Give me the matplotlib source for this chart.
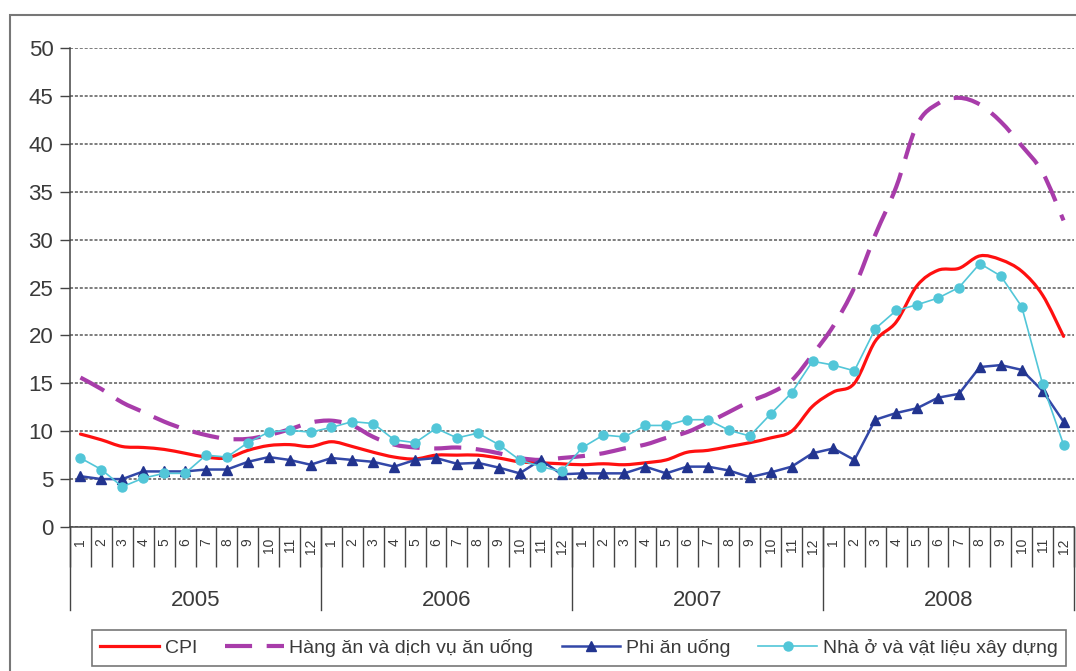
import matplotlib
matplotlib.use("Agg")
import matplotlib.pyplot as plt
from matplotlib.path import Path
from matplotlib.patches import PathPatch, Rectangle
from matplotlib.lines import Line2D
import numpy as np

# ---- data: year-on-year change (%), monthly 2005-2008 ----
years = ["2005", "2006", "2007", "2008"]
months = [str(m) for m in range(1, 13)]

cpi = [9.7, 9.1, 8.4, 8.3, 8.1, 7.7, 7.3, 7.2, 8.0, 8.5, 8.6, 8.4,
       8.9, 8.4, 7.8, 7.3, 7.1, 7.5, 7.5, 7.5, 7.2, 6.8, 6.7, 6.6,
       6.5, 6.6, 6.5, 6.7, 7.0, 7.8, 8.0, 8.4, 8.8, 9.3, 10.0, 12.6,
       14.1, 15.0, 19.4, 21.4, 25.2, 26.8, 27.0, 28.3, 27.9, 26.7, 24.2, 19.9]

food = [15.6, 14.4, 13.0, 12.0, 11.0, 10.2, 9.6, 9.2, 9.2, 9.6, 10.2, 10.9,
        11.1, 10.6, 9.4, 8.6, 8.3, 8.2, 8.3, 8.1, 7.7, 7.2, 7.0, 7.2,
        7.4, 7.7, 8.2, 8.6, 9.3, 9.9, 10.9, 12.0, 13.1, 14.0, 15.3, 18.0,
        21.0, 25.0, 30.5, 35.5, 42.0, 44.2, 44.8, 44.1, 42.3, 39.8, 37.0, 32.0]

nonfood = [5.3, 5.0, 5.0, 5.8, 5.8, 5.8, 6.0, 6.0, 6.8, 7.3, 7.0, 6.5,
           7.2, 7.0, 6.8, 6.3, 7.0, 7.2, 6.6, 6.7, 6.2, 5.6, 7.0, 5.5,
           5.6, 5.6, 5.6, 6.3, 5.6, 6.3, 6.3, 5.9, 5.2, 5.7, 6.3, 7.7,
           8.2, 7.0, 11.2, 11.9, 12.4, 13.5, 13.9, 16.7, 16.9, 16.4, 14.2, 11.0]

housing = [7.2, 6.0, 4.2, 5.1, 5.6, 5.6, 7.5, 7.3, 8.8, 9.9, 10.1, 9.9,
           10.4, 11.0, 10.8, 9.1, 8.8, 10.3, 9.3, 9.8, 8.6, 7.0, 6.3, 5.8,
           8.3, 9.6, 9.4, 10.6, 10.6, 11.2, 11.2, 10.1, 9.5, 11.8, 14.0, 17.3,
           16.9, 16.3, 20.7, 22.6, 23.2, 23.9, 25.0, 27.5, 26.2, 23.0, 14.9, 8.6]

labels = ["CPI", "Hàng ăn và dịch vụ ăn uống", "Phi ăn uống",
          "Nhà ở và vật liệu xây dựng"]

# ---- styles ----
RED = "#FF1010"
MAGENTA = "#A83CAA"
BLUE = "#3348A8"
BLUE_MK = "#22348F"
CYAN = "#52C6D8"
TXT = "#3a3a3a"
FONT = "Liberation Sans"

plt.rcParams["font.family"] = [FONT, "DejaVu Sans"]

W, H = 1076, 671
fig = plt.figure(figsize=(W / 100, H / 100), dpi=100)
ax_l, ax_r, ax_t, ax_b = 70, 1074, 48, 527
ax = fig.add_axes([ax_l / W, 1 - ax_b / H, (ax_r - ax_l) / W, (ax_b - ax_t) / H])
ax_h_px = ax_b - ax_t

n = len(cpi)
x = np.arange(n)


def smooth_path(xs, ys):
    """Cubic Bezier path through the points (Catmull-Rom style tangents)."""
    verts = [(xs[0], ys[0])]
    codes = [Path.MOVETO]
    m = len(xs)
    for i in range(m - 1):
        p0 = i - 1 if i > 0 else i
        p3 = i + 2 if i + 2 < m else i + 1
        c1 = (xs[i] + (xs[i + 1] - xs[p0]) / 6.0, ys[i] + (ys[i + 1] - ys[p0]) / 6.0)
        c2 = (xs[i + 1] - (xs[p3] - xs[i]) / 6.0, ys[i + 1] - (ys[p3] - ys[i]) / 6.0)
        verts += [c1, c2, (xs[i + 1], ys[i + 1])]
        codes += [Path.CURVE4] * 3
    return Path(verts, codes)


# smoothed lines
ax.add_patch(PathPatch(smooth_path(x, cpi), fill=False, edgecolor=RED,
                       lw=2.3, joinstyle="round", capstyle="round", zorder=3))
ax.add_patch(PathPatch(smooth_path(x, food), fill=False, edgecolor=MAGENTA,
                       lw=3.0, linestyle=(0, (6.5, 3.5)), capstyle="butt",
                       zorder=4))
# straight lines with markers
ax.plot(x, nonfood, color=BLUE, lw=1.8, marker="^", ms=7,
        mfc=BLUE_MK, mec=BLUE_MK, zorder=5)
ax.plot(x, housing, color=CYAN, lw=1.2, marker="o", ms=6.5,
        mfc=CYAN, mec=CYAN, zorder=6)

# ---- axes ----
ax.set_xlim(-0.5, n - 0.5)
ax.set_ylim(0, 50)
ax.set_yticks(range(0, 51, 5))
ax.tick_params(axis="y", direction="out", length=7, width=1.0, color="#444",
               pad=5, labelsize=16, labelcolor=TXT)
ax.yaxis.grid(True, color="#5a5a5a", lw=1.1, ls=(0, (2, 1.2)))
ax.set_axisbelow(True)

for s in ("top", "right"):
    ax.spines[s].set_visible(False)
for s in ("left", "bottom"):
    ax.spines[s].set_color("#444")
    ax.spines[s].set_linewidth(1.1)

# category boundaries as major ticks, month names as minor tick labels
ax.set_xticks(np.arange(-0.5, n, 1.0))
ax.set_xticklabels([])
ax.tick_params(axis="x", which="major", direction="out", length=29,
               width=1.0, color="#444")
ax.set_xticks(x, minor=True)
ax.set_xticklabels(months * len(years), minor=True, rotation=90, fontsize=10,
                   color=TXT)
ax.tick_params(axis="x", which="minor", length=0, pad=8)

# year separators and year labels
xt = ax.get_xaxis_transform()
sep_depth = -83 / ax_h_px
for b in np.arange(-0.5, n, 12):
    ax.add_line(Line2D([b, b], [0, sep_depth], transform=xt, color="#444",
                       lw=1.0, clip_on=False))
for k, yr in enumerate(years):
    ax.text(12 * k + 5.5, -73 / ax_h_px, yr, transform=xt, ha="center",
            va="center", fontsize=16, color=TXT)

# ---- legend ----
handles = [
    Line2D([], [], color=RED, lw=2.3),
    Line2D([], [], color=MAGENTA, lw=3.0, ls=(0, (6.5, 3.5))),
    Line2D([], [], color=BLUE, lw=1.8, marker="^", ms=7, mfc=BLUE_MK,
           mec=BLUE_MK),
    Line2D([], [], color=CYAN, lw=1.2, marker="o", ms=6.5, mfc=CYAN, mec=CYAN),
]
leg = fig.legend(handles, labels, loc="center",
                 bbox_to_anchor=(579 / W, 1 - 648 / H), ncol=4,
                 frameon=True, fancybox=False, edgecolor="#555",
                 handlelength=3.0, handletextpad=0.3, columnspacing=1.45,
                 borderpad=0.45, fontsize=14)
leg.get_frame().set_linewidth(1.2)
for t in leg.get_texts():
    t.set_color(TXT)

# outer chart border
fig.patches.append(Rectangle((10 / W, -0.1), 1.2, (1 - 15 / H) + 0.1,
                             transform=fig.transFigure, fill=False,
                             edgecolor="#777", lw=1.5))

fig.savefig("out.png", dpi=100)
